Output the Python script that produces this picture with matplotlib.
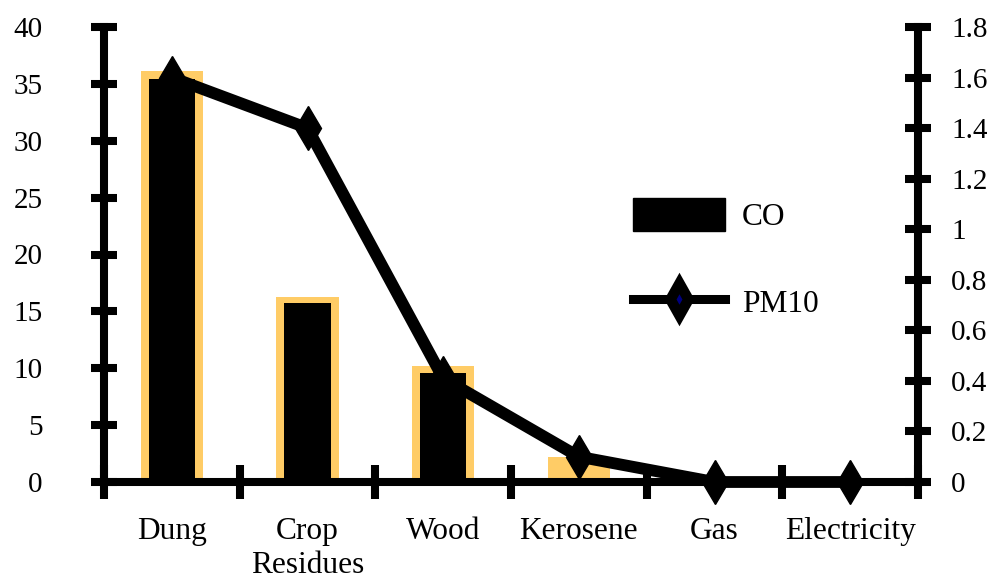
import matplotlib
matplotlib.use("Agg")
import matplotlib.pyplot as plt
from matplotlib.patches import Patch
from matplotlib.lines import Line2D

plt.rcParams['font.family'] = ['Liberation Serif', 'DejaVu Serif']

# ---- data ----
categories = ["Dung", "Crop\nResidues", "Wood", "Kerosene", "Gas", "Electricity"]
co_outline = [36.1, 16.3, 10.2, 2.2, 0.0, 0.0]   # orange frame series
co = [35.4, 15.7, 9.6, 0.0, 0.0, 0.0]            # CO (black bars)
pm10 = [1.60, 1.40, 0.41, 0.10, 0.0, 0.0]        # PM10 (right axis)
left_ticks = [0, 5, 10, 15, 20, 25, 30, 35, 40]
right_ticks = [0, 0.2, 0.4, 0.6, 0.8, 1.0, 1.2, 1.4, 1.6, 1.8]
right_labels = ["0", "0.2", "0.4", "0.6", "0.8", "1", "1.2", "1.4", "1.6", "1.8"]

W, H = 993, 586
fig = plt.figure(figsize=(W / 100, H / 100), dpi=100)
ax = fig.add_axes([104 / W, 1 - 482 / H, (918 - 104) / W, (482 - 27) / H])

xs = [i + 0.5 for i in range(len(categories))]
ORANGE = "#FFCC66"
LW = 5.8

ax.bar(xs, co_outline, width=0.46, color=ORANGE, zorder=1)
ax.bar(xs, co, width=0.34, color="black", zorder=1.5)

ax.set_xlim(0, len(categories))
ax.set_ylim(0, 40)
ax.set_yticks(left_ticks)
ax.set_yticklabels([str(t) for t in left_ticks])

ax.set_xticks(range(len(categories) + 1))
ax.set_xticklabels([])
ax.set_xticks(xs, minor=True)
ax.set_xticklabels(categories, minor=True, fontsize=22.6, linespacing=1.25)
ax.tick_params(axis='x', which='major', direction='inout', length=25, width=LW, color='black')
ax.tick_params(axis='x', which='minor', length=0, pad=25)
ax.tick_params(axis='y', direction='inout', length=18.7, width=LW, pad=35, labelsize=21)

for s in ['top', 'right']:
    ax.spines[s].set_visible(False)
for s in ['left', 'bottom']:
    ax.spines[s].set_linewidth(LW)

ax2 = ax.twinx()
ax2.set_ylim(0, 1.8)
ax2.plot(xs, pm10, color='black', lw=8.5, marker='d', ms=22, mfc='black', mec='black',
         mew=1, zorder=3, clip_on=False)
ax2.set_yticks(right_ticks)
ax2.set_yticklabels(right_labels)
ax2.tick_params(axis='y', direction='inout', length=18.7, width=LW, pad=14.4, labelsize=21)
for s in ['top', 'left', 'bottom']:
    ax2.spines[s].set_visible(False)
ax2.spines['right'].set_linewidth(LW)

handles = [
    Patch(facecolor='black', edgecolor='black', label='CO'),
    Line2D([0], [0], color='black', lw=6.5, marker='d', ms=16, mfc='#000080', mec='black',
           mew=7.6, label='PM10'),
]
fig.legend(handles=handles, loc='upper left', bbox_to_anchor=(633 / W, 1 - 198 / H),
           frameon=False, fontsize=22.6, borderpad=0, borderaxespad=0,
           handlelength=2.93, handleheight=1.24, handletextpad=0.54, labelspacing=1.7,
           numpoints=1)

fig.savefig("out.png", dpi=100)
